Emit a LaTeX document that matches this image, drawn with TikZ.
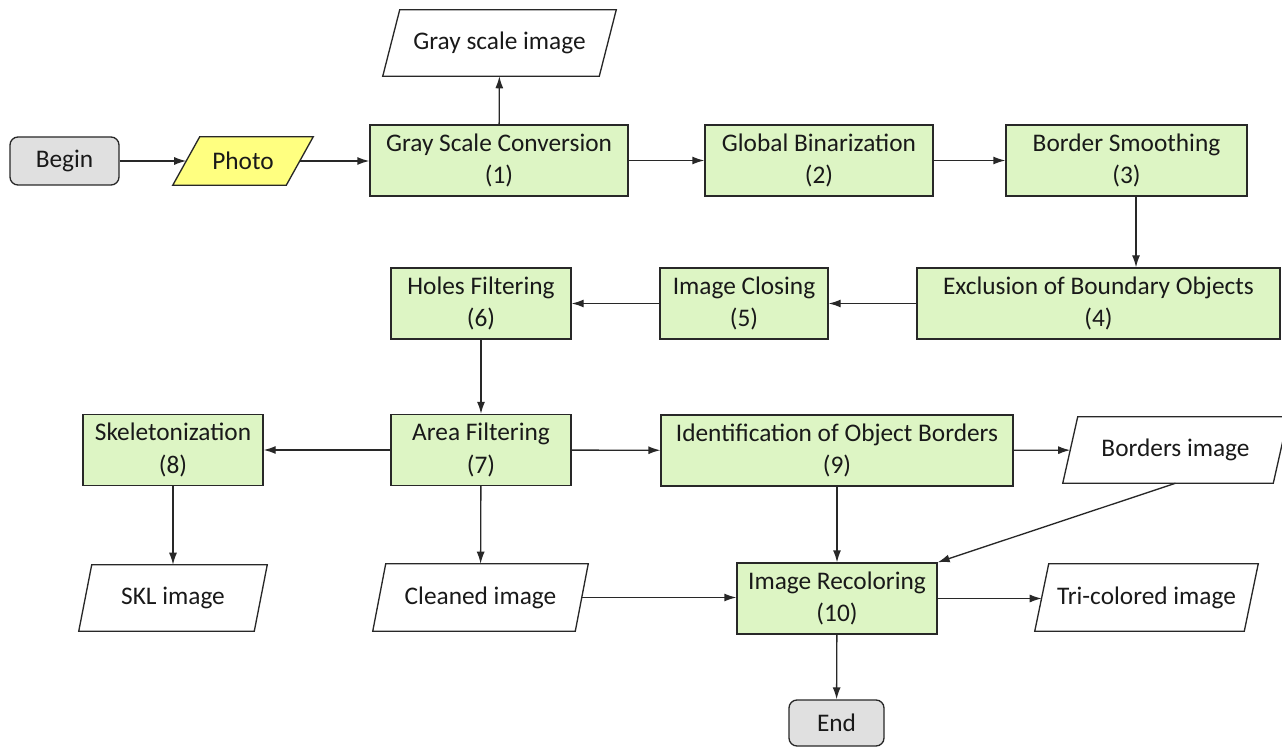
\documentclass[tikz,border=0pt]{standalone}
\usepackage{fontspec}
\setmainfont{Carlito}
\usetikzlibrary{arrows.meta}
\definecolor{boxgreen}{RGB}{221,245,196}
\definecolor{photoyellow}{RGB}{255,255,128}
\definecolor{termgray}{RGB}{224,224,224}
\definecolor{linegray}{RGB}{40,40,40}
\definecolor{txt}{RGB}{25,25,25}
\begin{document}
\begin{tikzpicture}[x=0.75pt,y=-0.75pt,
  every node/.style={font=\fontsize{19}{24.5}\selectfont, text=txt, align=center, inner sep=0pt},
  procbox/.style={draw=linegray, line width=1pt, fill=boxgreen, rectangle},
  termbox/.style={draw=linegray, line width=1pt, fill=termgray, rounded corners=6pt, rectangle},
  iobox/.style={rectangle},
  ioline/.style={draw=linegray, line width=1pt},
  conn/.style={draw=linegray, line width=1pt, -{Latex[length=9pt,width=6pt]}}]
\useasboundingbox (0,0) rectangle (1282,748);
% terminals
\node[termbox, minimum width=109*0.75pt, minimum height=48*0.75pt] (begin) at (64.5,161) {Begin};
\node[termbox, minimum width=95*0.75pt, minimum height=46*0.75pt] (end) at (836.5,723) {End};
% process boxes
\node[procbox, minimum width=258*0.75pt, minimum height=71*0.75pt] (p1) at (499,160.5) {Gray Scale Conversion\\(1)};
\node[procbox, minimum width=228*0.75pt, minimum height=71*0.75pt] (p2) at (819,160.5) {Global Binarization\\(2)};
\node[procbox, minimum width=241*0.75pt, minimum height=71*0.75pt] (p3) at (1126.5,160.5) {Border Smoothing\\(3)};
\node[procbox, minimum width=363*0.75pt, minimum height=71*0.75pt] (p4) at (1098.5,303.5) {Exclusion of Boundary Objects\\(4)};
\node[procbox, minimum width=168*0.75pt, minimum height=71*0.75pt] (p5) at (744,303.5) {Image Closing\\(5)};
\node[procbox, minimum width=180*0.75pt, minimum height=71*0.75pt] (p6) at (481,303.5) {Holes Filtering\\(6)};
\node[procbox, minimum width=180*0.75pt, minimum height=71*0.75pt] (p7) at (481,450) {Area Filtering\\(7)};
\node[procbox, minimum width=180*0.75pt, minimum height=71*0.75pt] (p8) at (173,450) {Skeletonization\\(8)};
\node[procbox, minimum width=352*0.75pt, minimum height=71*0.75pt] (p9) at (837,450.5) {Identification of Object Borders\\(9)};
\node[procbox, minimum width=200*0.75pt, minimum height=71*0.75pt] (p10) at (837,598.5) {Image Recoloring\\(10)};
% io shapes: yellow fill for photo first
\coordinate (phc) at (243,161);
\fill[photoyellow] (186.5+13.5,137) -- (299.5+13.5,137) -- (299.5-13.5,185) -- (186.5-13.5,185) -- cycle;
\node[iobox, minimum width=113*0.75pt, minimum height=48*0.75pt] (photo) at (phc) {Photo};
\node[iobox, minimum width=216*0.75pt, minimum height=66*0.75pt] (gimg) at (499.5,43) {Gray scale image};
\node[iobox, minimum width=210*0.75pt, minimum height=66*0.75pt] (bimg) at (1175.5,450) {Borders image};
\node[iobox, minimum width=175*0.75pt, minimum height=66*0.75pt] (skl) at (173,598) {SKL image};
\node[iobox, minimum width=202*0.75pt, minimum height=67*0.75pt] (cimg) at (480.5,597.5) {Cleaned image};
\node[iobox, minimum width=209*0.75pt, minimum height=67*0.75pt] (timg) at (1146.5,597.5) {Tri-colored image};
\foreach \n/\s in {photo/13.5, gimg/8.5, bimg/7.5, skl/6.5, cimg/6.5, timg/7} {
  \draw[ioline] ([xshift=\s*0.75pt]\n.north west) -- ([xshift=\s*0.75pt]\n.north east) -- ([xshift=-\s*0.75pt]\n.south east) -- ([xshift=-\s*0.75pt]\n.south west) -- cycle;
}
% connectors
\draw[conn] (begin) -- (photo);
\draw[conn] (photo) -- (p1.west |- photo);
\draw[conn] (p1) -- (gimg);
\draw[conn] (p1) -- (p2);
\draw[conn] (p2) -- (p3);
\coordinate (bsx) at (1136,0);
\draw[conn] (bsx |- p3.south) -- (bsx |- p4.north);
\draw[conn] (p4) -- (p5);
\draw[conn] (p5) -- (p6);
\draw[conn] (p6) -- (p7);
\draw[conn] (p7) -- (p8);
\draw[conn] (p7) -- (p9);
\draw[conn] (p7) -- (cimg);
\draw[conn] (p8) -- (skl);
\draw[conn] (p9) -- (bimg);
\draw[conn] (p9) -- (p10);
\draw[conn] (bimg.south) -- (p10.north east);
\draw[conn] (cimg) -- (p10.west |- cimg);
\draw[conn] (p10) -- (timg.west |- p10);
\draw[conn] (p10) -- (end);
\end{tikzpicture}
\end{document}
